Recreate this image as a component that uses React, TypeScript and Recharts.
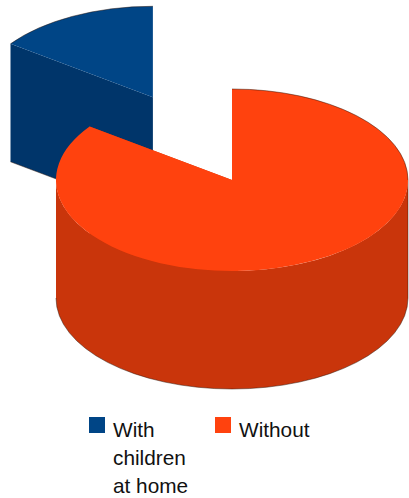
import { Legend, Pie, PieChart } from "recharts";

const categories = ["With children at home", "Without"];
const shares = [15, 85];
const topColors = ["#004586", "#ff420e"];
const sideColors = ["#00356a", "#c9350b"];

const RAD = Math.PI / 180;
const TILT = 91 / 176; // squash of the disc
const DEPTH = 118;
const PULLED_OUT = "With children at home";
const PULL_X = 0.99;
const PULL_Y = 1.02;
const EDGE = { fill: "none", stroke: "#2a1208", strokeWidth: 0.8, strokeOpacity: 0.6 };

const rows = categories.map((name, i) => ({
  name,
  value: shares[i],
  fill: topColors[i],
  side: sideColors[i],
}));

// Pie sector drawn as a tilted, extruded wedge
const WedgeShape = (props: any) => {
  const { cx, cy, outerRadius: r, startAngle, endAngle, midAngle, fill, payload } = props;
  const ry = r * TILT;
  const pulled = payload.name === PULLED_OUT;
  const x0 = cx + (pulled ? PULL_X : 0) * r * Math.cos(midAngle * RAD);
  const y0 = cy - (pulled ? PULL_Y : 0) * ry * Math.sin(midAngle * RAD);
  const px = (a: number) => x0 + r * Math.cos(a * RAD);
  const py = (a: number) => y0 - ry * Math.sin(a * RAD);
  const large = Math.abs(startAngle - endAngle) > 180 ? 1 : 0;

  const top = `M${x0},${y0} L${px(startAngle)},${py(startAngle)} A${r},${ry} 0 ${large} 1 ${px(endAngle)},${py(endAngle)} Z`;
  const face = (a: number) =>
    `M${x0},${y0} L${px(a)},${py(a)} L${px(a)},${py(a) + DEPTH} L${x0},${y0 + DEPTH} Z`;
  const faceFoot = (a: number) => `M${px(a)},${py(a) + DEPTH} L${x0},${y0 + DEPTH}`;

  // only the lower half of the rim faces the viewer
  const from = Math.min(startAngle, 0);
  const to = Math.max(endAngle, -180);
  const hasRim = from > to;
  const rim = `M${px(from)},${py(from)} A${r},${ry} 0 0 1 ${px(to)},${py(to)} L${px(to)},${py(to) + DEPTH} A${r},${ry} 0 0 0 ${px(from)},${py(from) + DEPTH} Z`;
  const rimEdge = `M${px(from)},${py(from)} L${px(from)},${py(from) + DEPTH} A${r},${ry} 0 0 1 ${px(to)},${py(to) + DEPTH}`;

  // back part of the top rim, as far round as the right-hand side
  const backEnd = Math.max(endAngle, 0);
  const backEdge = `M${px(startAngle)},${py(startAngle)} A${r},${ry} 0 0 1 ${px(backEnd)},${py(backEnd)}`;

  return (
    <g>
      <path d={face(startAngle)} fill={payload.side} />
      <path d={face(endAngle)} fill={payload.side} />
      <path d={faceFoot(startAngle)} {...EDGE} />
      {hasRim && <path d={rim} fill={payload.side} />}
      {hasRim && <path d={rimEdge} {...EDGE} />}
      <path d={top} fill={fill} />
      <path d={backEdge} {...EDGE} />
    </g>
  );
};

const LegendRows = ({ payload }: any) => (
  <div style={{ display: "flex", fontFamily: "'Liberation Sans', Arial, sans-serif", fontSize: 20.8, lineHeight: "28px", color: "#111" }}>
    {(payload || []).map((item: any) => (
      <div key={item.value} style={{ display: "flex", width: 126 }}>
        <span style={{ width: 16, height: 16, marginTop: 1, marginRight: 8, flex: "none", background: item.color }} />
        <span style={{ width: 88 }}>{item.value}</span>
      </div>
    ))}
  </div>
);

export default function App() {
  return (
    <div style={{ position: "absolute", left: 0, top: 0 }}>
      <PieChart width={409} height={498} margin={{ top: 0, right: 0, bottom: 0, left: 0 }}>
        <Pie
          data={rows}
          dataKey="value"
          nameKey="name"
          cx={232}
          cy={180}
          outerRadius={176}
          startAngle={144}
          endAngle={-216}
          stroke="none"
          shape={WedgeShape}
          isAnimationActive={false}
        />
        <Legend content={LegendRows} wrapperStyle={{ left: 89, top: 416, bottom: "auto", width: 260 }} />
      </PieChart>
    </div>
  );
}
